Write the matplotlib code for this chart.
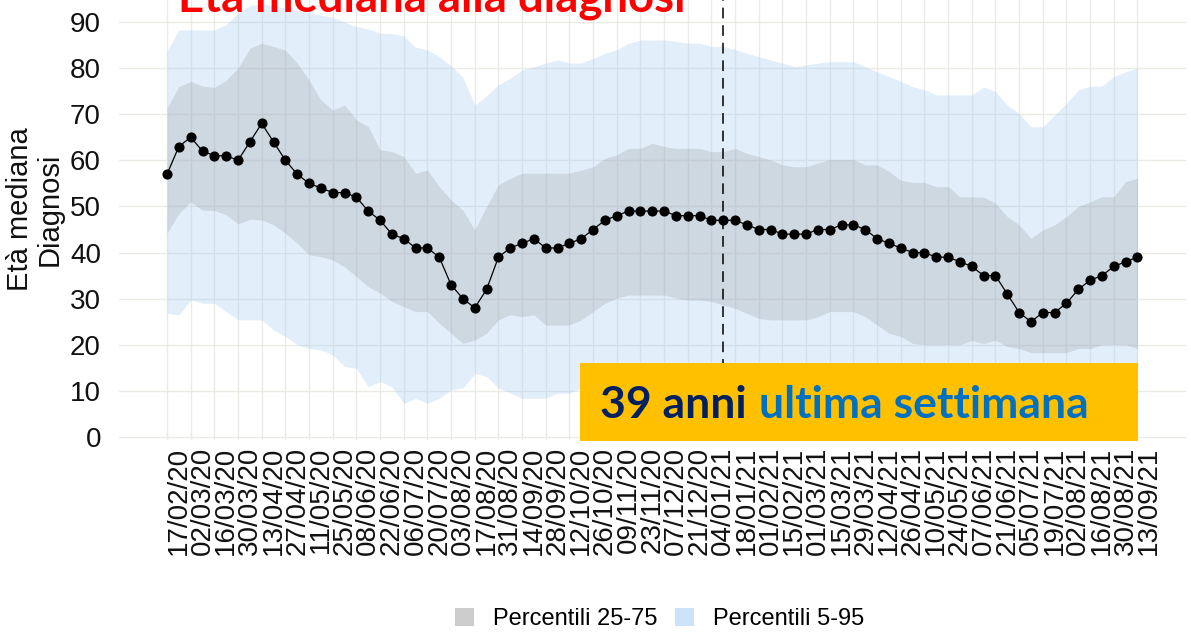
import numpy as np
import matplotlib
matplotlib.use('Agg')
import matplotlib.pyplot as plt
from matplotlib.patches import Patch, Rectangle
from matplotlib.text import Annotation

# eta' mediana settimanale e percentili
mediana = [57, 63, 65, 62, 61, 61, 60, 64, 68, 64,
           60, 57, 55, 54, 53, 53, 52, 49, 47, 44,
           43, 41, 41, 39, 33, 30, 28, 32, 39, 41,
           42, 43, 41, 41, 42, 43, 45, 47, 48, 49,
           49, 49, 49, 48, 48, 48, 47, 47, 47, 46,
           45, 45, 44, 44, 44, 45, 45, 46, 46, 45,
           43, 42, 41, 40, 40, 39, 39, 38, 37, 35,
           35, 31, 27, 25, 27, 27, 29, 32, 34, 35,
           37, 38, 39]

p25 = [44.2, 48.5, 51, 49.2, 49.1, 48.2, 46.2, 47.2, 47.1, 46,
       44.2, 42, 39.5, 39.1, 38.4, 36.9, 34.8, 32.6, 31.2, 29.4,
       28.3, 27.2, 27.2, 24.7, 22.5, 20.3, 21, 22.5, 25.4, 26.5,
       26.1, 26.5, 24.3, 24.3, 24.3, 25.4, 27.2, 29, 30.1, 30.8,
       30.8, 30.8, 30.8, 30.1, 29.7, 29.7, 29.4, 28.6, 27.9, 26.8,
       25.7, 25.4, 25.4, 25.4, 25.4, 26.1, 27.2, 27.2, 27.2, 26.1,
       24.3, 22.5, 21.8, 20.3, 20, 20, 20, 20, 20.9, 20.3,
       21, 19.6, 19.2, 18.3, 18.3, 18.3, 18.3, 19.2, 19.2, 20,
       20, 20, 19.2]

p75 = [71.3, 76, 77.1, 76.1, 75.8, 77.4, 80, 84.3, 85.4, 84.7,
       83.9, 81.1, 77.4, 73.1, 70.9, 72, 68.8, 67.3, 62.3, 61.9,
       60.8, 57.2, 57.9, 54.3, 51.4, 49.2, 44.9, 50, 54.7, 56.1,
       57.2, 57.2, 57.2, 57.2, 57.2, 57.9, 58.6, 60.4, 61.2, 62.6,
       62.6, 63.7, 63, 62.6, 62.6, 62.6, 61.9, 61.9, 62.6, 61.5,
       60.8, 60.1, 59, 58.6, 58.6, 59.4, 60.2, 60.2, 60.2, 59,
       59, 57.6, 55.7, 55.2, 55.2, 54.3, 54.3, 52.1, 52.1, 52,
       50.7, 47.8, 46, 43.1, 44.9, 46, 47.8, 50, 51, 52.1,
       52.1, 55.4, 56.1]

p5 = [26.8, 26.5, 29.7, 29, 29, 27.2, 25.4, 25.4, 25.4, 23.2,
      21.8, 20, 19.2, 18.9, 17.8, 15.3, 14.9, 10.9, 12, 10.9,
      7.3, 8.4, 7.3, 8.4, 10.2, 10.6, 13.8, 13.1, 10.6, 9.5,
      8.4, 8.4, 8.4, 9.5, 9.5, 10.6, 12, 13, 14, 15,
      15, 15, 15, 14, 14, 13, 13, 13, 12, 12,
      11, 11, 11, 11, 11, 12, 12, 12, 12, 12,
      11, 11, 10, 10, 10, 10, 10, 10, 10, 9,
      9, 9, 8, 8, 8, 8, 9, 9, 10, 10,
      10, 10, 10]

p95 = [83.6, 88.3, 88.3, 88.3, 88.3, 89.4, 92, 93.5, 94, 93.5,
       93, 92.5, 92, 91.5, 91, 90, 89, 88.5, 87.6, 87.5,
       87, 84.5, 84, 82.5, 80.5, 78, 72, 74, 76.4, 77.8,
       79.6, 80.3, 81.1, 81.8, 81.1, 81.1, 82.1, 83.2, 84, 85.4,
       86.1, 86.1, 86.1, 85.8, 85.4, 85.4, 84.7, 84.7, 84, 83.2,
       82.5, 81.8, 81.1, 80.3, 80.7, 81.1, 81.4, 81.4, 81.4, 80.3,
       79.2, 78.2, 77.1, 76, 75.3, 74.2, 74.2, 74.2, 74.2, 75.9,
       74.9, 72, 70.2, 67.3, 67.3, 69.8, 72.4, 75.3, 76.1, 76.1,
       78.2, 79.2, 80]

etichette = ['17/02/20', '02/03/20', '16/03/20', '30/03/20', '13/04/20', '27/04/20',
             '11/05/20', '25/05/20', '08/06/20', '22/06/20', '06/07/20', '20/07/20',
             '03/08/20', '17/08/20', '31/08/20', '14/09/20', '28/09/20', '12/10/20',
             '26/10/20', '09/11/20', '23/11/20', '07/12/20', '21/12/20', '04/01/21',
             '18/01/21', '01/02/21', '15/02/21', '01/03/21', '15/03/21', '29/03/21',
             '12/04/21', '26/04/21', '10/05/21', '24/05/21', '07/06/21', '21/06/21',
             '05/07/21', '19/07/21', '02/08/21', '16/08/21', '30/08/21', '13/09/21']

data_linea = '04/01/21'
ultimo_valore = mediana[-1]

W, H = 1191, 642
fig = plt.figure(figsize=(W / 100, H / 100), dpi=100)
ax = fig.add_axes([119 / W, 1 - 440 / H, (1186 - 119) / W, 440 / H])

x = np.arange(len(mediana))
pos_etichette = np.arange(len(etichette)) * 2 + 1

# bande percentili
ax.fill_between(x, p5, p95, color='#99C4F0', alpha=0.28, linewidth=0, zorder=1)
ax.fill_between(x, p25, p75, color='#808080', alpha=0.2, linewidth=0, zorder=2)

# mediana
ax.plot(x, mediana, color='black', linewidth=0.9, marker='o', markersize=6.3, zorder=4)

# linea tratteggiata
x_linea = pos_etichette[etichette.index(data_linea)]
ax.axvline(x_linea, color='black', linewidth=1.1, dashes=(7, 4.5), zorder=3)

# assi
ax.set_xlim(-4.06, 86.1)
ax.set_ylim(-0.65, 437 / 4.611)
ax.set_yticks(np.arange(0, 91, 10))
ax.set_xticks(x[::2])
ax.set_xticklabels([])
ax.set_xticks(pos_etichette, minor=True)
ax.set_xticklabels(etichette, minor=True, rotation=90, fontsize=20,
                   family='Liberation Sans', color='#111111')
ax.tick_params(axis='x', which='both', length=0, pad=5)
ax.tick_params(axis='y', length=0, pad=13, labelsize=20, labelcolor='#111111')
for t in ax.get_yticklabels():
    t.set_family('Liberation Sans')
ax.grid(True, which='major', color='#EBEBE6', linewidth=1.0)
ax.set_axisbelow(True)
for s in ax.spines.values():
    s.set_visible(False)

fig.text(35 / W, 1 - 209 / H, 'Età mediana\nDiagnosi', rotation=90, ha='center', va='center',
         fontsize=21, family='Liberation Sans', color='#111111', linespacing=1.05,
         multialignment='center')

# titolo (tagliato in alto come nell'originale)
fig.text(178 / W, 1 - 11 / H, 'Età mediana alla diagnosi', color='#FF0000', fontsize=32.8,
         family='Lato', weight='bold', ha='left', va='baseline')

# riquadro giallo
fig.patches.append(Rectangle((580 / W, 1 - 441 / H), 558 / W, 78 / H,
                             transform=fig.transFigure, facecolor='#FFC000',
                             edgecolor='none', zorder=5))
t1 = fig.text(600 / W, 1 - 418 / H, f'{ultimo_valore} anni', color='#002060', fontsize=32,
              family='Lato', weight='bold', ha='left', va='baseline', zorder=6)
t2 = Annotation('ultima settimana', xy=(1, 0), xycoords=t1, xytext=(9, 0),
                textcoords='offset points', ha='left', va='bottom', color='#0070C0',
                fontsize=32, family='Lato', weight='bold', annotation_clip=False, zorder=6)
fig.add_artist(t2)

# legenda
handles = [Patch(facecolor='#CCCCCC', edgecolor='none'),
           Patch(facecolor='#CCE2F8', edgecolor='none')]
fig.legend(handles, ['Percentili 25-75', 'Percentili 5-95'], loc='center',
           bbox_to_anchor=(660 / W, 1 - 619 / H), ncol=2, frameon=False,
           prop={'family': 'Liberation Sans', 'size': 17}, handlelength=0.8,
           handleheight=0.8, handletextpad=0.8, columnspacing=0.75)

fig.savefig('out.png', dpi=100)
